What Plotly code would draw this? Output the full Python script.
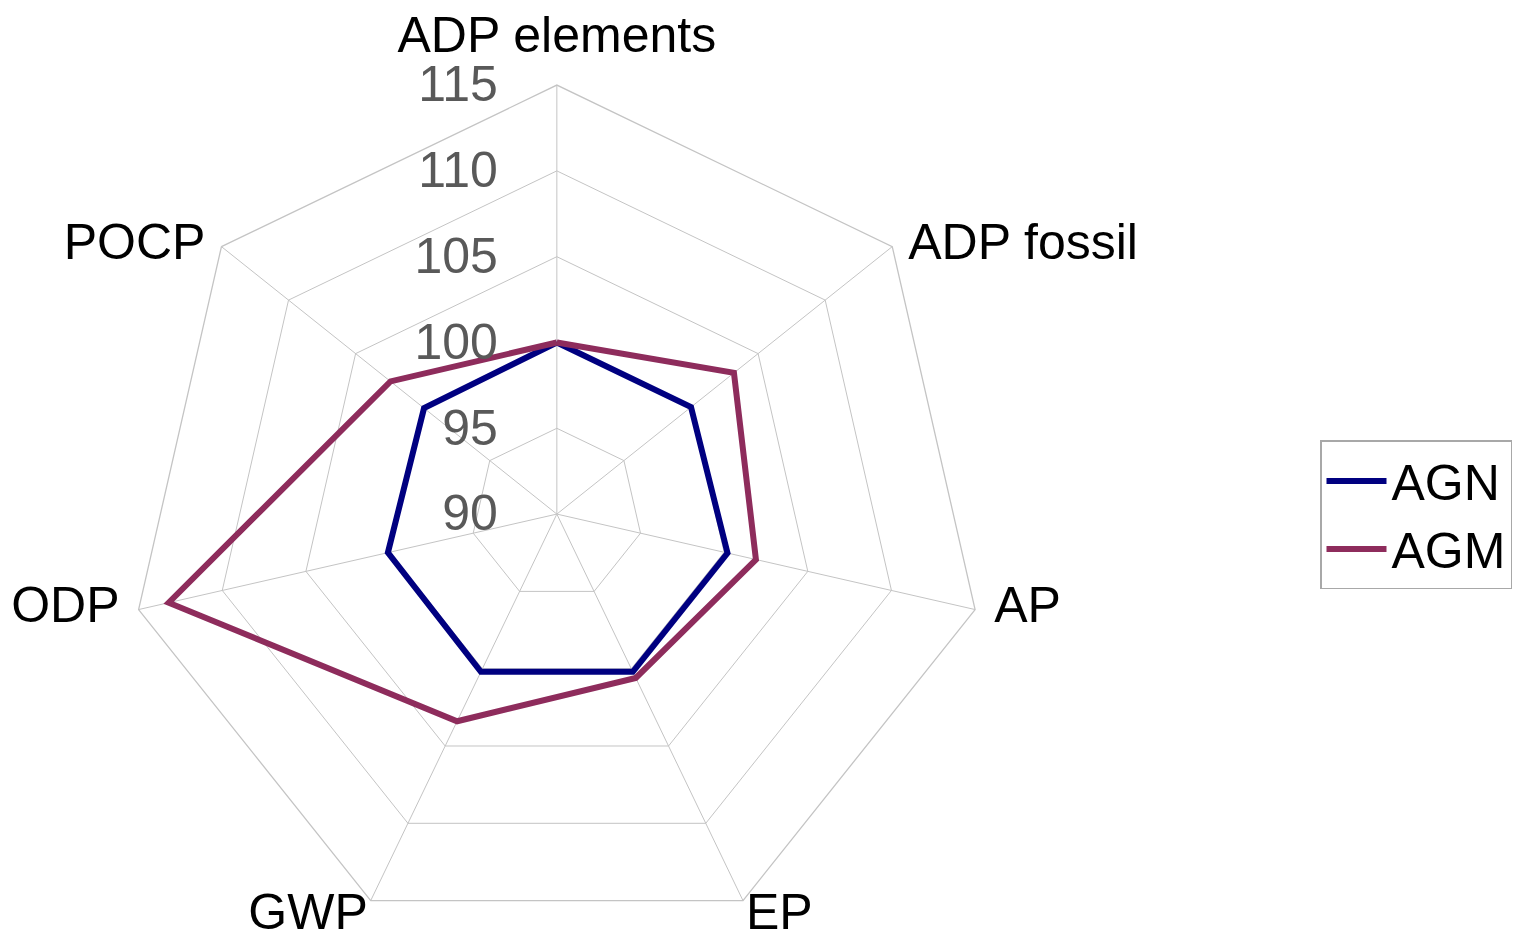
import plotly.graph_objects as go

categories = ["ADP elements", "ADP fossil", "AP", "EP", "GWP", "ODP", "POCP"]
agn = [100, 100, 100.2, 100.2, 100.2, 100.1, 99.9]
agm = [100, 103.2, 101.9, 100.6, 103.4, 113.2, 102.4]
tick_vals = [90, 95, 100, 105, 110, 115]
tick_text = ["90", "95", "100", "105", "110", "115"]

# label placement (style): anchor radius, side and spacing (invisible marker sizes)
label_r = [115, 115, 115, 113.5, 113.5, 115, 115]
label_pos = ["top center", "middle right", "middle right", "bottom right",
             "bottom left", "middle left", "middle left"]
label_gap = [32, 24, 29, 21, 21, 29, 24]

fig = go.Figure()
for name, vals, color in [("AGN", agn, "#000080"), ("AGM", agm, "#8E2C5C")]:
    fig.add_trace(go.Scatterpolar(
        r=vals + vals[:1], theta=categories + categories[:1], name=name,
        mode="lines", line=dict(color=color, width=6),
    ))

# category labels placed around the outer ring via the polar scales
fig.add_trace(go.Scatterpolar(
    r=label_r, theta=categories, text=categories,
    mode="markers+text", textposition=label_pos, cliponaxis=False,
    marker=dict(size=label_gap, color="rgba(0,0,0,0)", line=dict(width=0)),
    textfont=dict(size=50, color="black"), showlegend=False, hoverinfo="skip",
))

grid = "#c4c4c4"
fig.update_layout(
    width=1521, height=948,
    paper_bgcolor="white", plot_bgcolor="white",
    margin=dict(l=0, r=0, t=0, b=0),
    font=dict(family="Liberation Sans, Arial, sans-serif", size=44, color="black"),
    polar=dict(
        domain=dict(x=[0.0788, 0.6429], y=[0.0136, 0.9187]),
        bgcolor="white",
        gridshape="linear",
        radialaxis=dict(
            range=[90, 115], tickvals=tick_vals, ticktext=tick_text, angle=90,
            side="counterclockwise", tickangle=90,
            showline=False, gridcolor=grid, gridwidth=1.3,
            ticks="outside", ticklen=41, tickcolor="rgba(0,0,0,0)",
            tickfont=dict(size=50, color="#595959"),
        ),
        angularaxis=dict(
            direction="clockwise", rotation=90, gridcolor=grid, gridwidth=1.3,
            linecolor=grid, linewidth=1.3, ticks="", showticklabels=False,
        ),
    ),
    legend=dict(
        x=1312 / 1521, xanchor="left", y=0.4652, yanchor="middle",
        bordercolor="#a8a8a8", borderwidth=1.5, bgcolor="white",
        font=dict(size=50, color="black"), tracegroupgap=0, itemwidth=60,
        entrywidth=230,
    ),
)

fig.write_html("out.html")
